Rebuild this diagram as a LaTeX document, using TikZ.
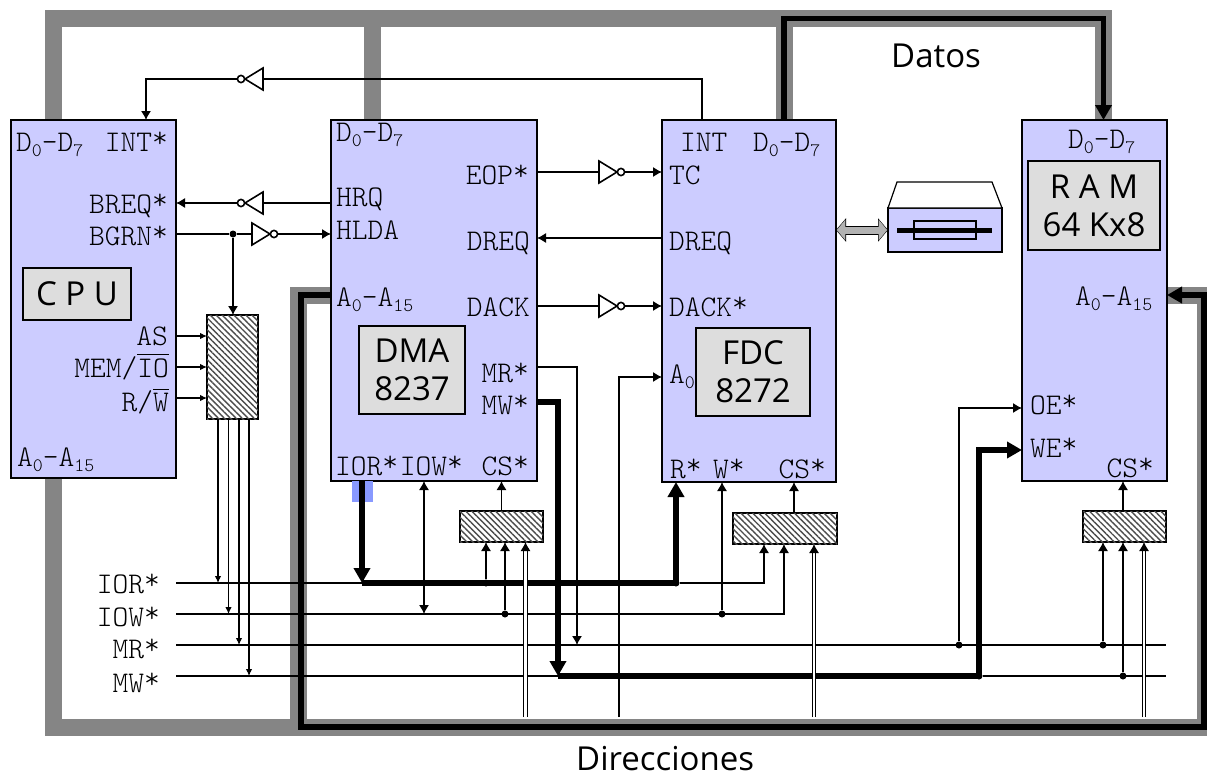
\documentclass[tikz,border=0pt]{standalone}
\usepackage{amsmath}
\usepackage{fontspec}
\usetikzlibrary{arrows.meta, patterns.meta, backgrounds}

\setmonofont{Latin Modern Mono Light}
\newfontfamily\tagfamily{Open Sans}
\definecolor{chipblue}{RGB}{204,204,255}
\definecolor{tagfill}{RGB}{221,221,221}
\definecolor{busgray}{RGB}{133,133,133}
\definecolor{markblue}{RGB}{136,153,255}
\newcommand{\pinfont}{\fontsize{30}{30}\selectfont\ttfamily}
\newcommand{\tagfont}{\fontsize{33}{38}\selectfont\tagfamily}
\newcommand{\idx}[1]{\raisebox{-5pt}{\fontsize{19}{19}\selectfont #1}}
\newcommand{\act}{\raisebox{3.5pt}{*}}

\tikzset{
    notgate/.pic={
        \draw[line width=1.6pt, fill=white] (0,-11) -- (0,11) -- (18,0) -- cycle;
        \draw[line width=1.6pt, fill=white] (22,0) circle (3.6);
    }
}

\begin{document}
\begin{tikzpicture}[
    x=1pt, y=-1pt,
    chip/.style={draw, line width=1.8pt, fill=chipblue, inner sep=0pt, outer sep=0pt},
    tagbox/.style={draw, line width=1.2pt, fill=tagfill, inner sep=0pt, outer sep=0pt, align=center, font=\tagfont},
    hatchbox/.style={draw, line width=1.3pt, fill=white, inner sep=0pt, outer sep=0pt,
        postaction={pattern={Lines[angle=-45, distance=4.2pt, line width=1.4pt]}, pattern color=black!70}},
    pinl/.style={font=\pinfont, inner sep=0pt, anchor=base west},
    pinr/.style={font=\pinfont, inner sep=0pt, anchor=base east},
    buslabel/.style={font=\tagfont, inner sep=0pt, anchor=base west},
    dot/.style={circle, fill=black, inner sep=0pt, minimum size=7pt},
    sig/.style={line width=1.1pt},
    arrow/.style={sig, -{Latex[length=9pt, width=10pt]}},
    smallarrow/.style={sig, -{Latex[length=7pt, width=6.5pt]}},
    both/.style={sig, {Latex[length=9pt, width=10pt]}-{Latex[length=9pt, width=10pt]}},
    addr/.style={line width=1pt, double, double distance=2.6pt, -{Latex[length=9pt, width=10pt]}},
    fat/.style={line width=5.5pt},
    fatarrow/.style={fat, -{Triangle[length=15pt, width=16pt]}},
    busline/.style={line width=17pt, draw=busgray}
]
\useasboundingbox (0,0) rectangle (1207,776);

% ----------------- chips -----------------
\node[chip, minimum width=165, minimum height=358] (cpu) at (93.5,299) {};
\node[chip, minimum width=206, minimum height=361] (dma) at (434,300.5) {};
\node[chip, minimum width=174, minimum height=362] (fdc) at (749,301) {};
\node[chip, minimum width=145, minimum height=361] (ram) at (1094.5,300.5) {};

\node[tagbox, minimum width=108, minimum height=52] (cpuTag) at (77,294) {C P U};
\node[tagbox, minimum width=106, minimum height=88] (dmaTag) at (412,370) {DMA\\8237};
\node[tagbox, minimum width=114, minimum height=88] (fdcTag) at (753,372) {FDC\\8272};
\node[tagbox, minimum width=132, minimum height=89] (ramTag) at (1094,205.5) {R A M\\64 Kx8};

% hatched decoders
\node[hatchbox, minimum width=51, minimum height=104] (hatchCpu) at (232.5,367) {};
\node[hatchbox, minimum width=83, minimum height=31] (hatchDma) at (501.5,526.5) {};
\node[hatchbox, minimum width=104, minimum height=31] (hatchFdc) at (785,528.5) {};
\node[hatchbox, minimum width=83, minimum height=31] (hatchRam) at (1124.5,526.5) {};

% ----------------- pin labels -----------------
\node[pinl] (cpuD) at (16,151) {D\idx{0}-D\idx{7}};
\node[pinr] (cpuInt) at (168,151) {INT\act};
\node[pinr] (cpuBreq) at (168,213) {BREQ\act};
\node[pinr] (cpuBgrn) at (168,245) {BGRN\act};
\node[pinr] (cpuAs) at (168,345) {AS};
\node[pinr] (cpuMem) at (169,377) {MEM/$\overline{\mbox{IO}}$};
\node[pinr] (cpuRw) at (169,411) {R/$\overline{\mbox{W}}$};
\node[pinl] (cpuA) at (17,466) {A\idx{0}-A\idx{15}};

\node[pinl] (dmaD) at (336,141) {D\idx{0}-D\idx{7}};
\node[pinl] (dmaHrq) at (336,206) {HRQ};
\node[pinl] (dmaHlda) at (336,239) {HLDA};
\node[pinl] (dmaA) at (336,306) {A\idx{0}-A\idx{15}};
\node[pinr] (dmaEop) at (529,184) {EOP\act};
\node[pinr] (dmaDreq) at (530,250) {DREQ};
\node[pinr] (dmaDack) at (530,316) {DACK};
\node[pinr] (dmaMr) at (529,382) {MR\act};
\node[pinr] (dmaMw) at (529,414) {MW\act};
\node[pinl] (dmaIor) at (335,475) {IOR\act};
\node[pinr] (dmaIow) at (463,475) {IOW\act};
\node[pinr] (dmaCs) at (529,475) {CS\act};

\node[pinl] (fdcInt) at (680,151) {INT};
\node[pinl] (fdcD) at (753,151) {D\idx{0}-D\idx{7}};
\node[pinl] (fdcTc) at (669,184) {TC};
\node[pinl] (fdcDreq) at (669,250) {DREQ};
\node[pinl] (fdcDack) at (669,316) {DACK\act};
\node[pinl] (fdcA) at (669,383) {A\idx{0}};
\node[pinl] (fdcR) at (670,478) {R\act};
\node[pinl] (fdcW) at (713,478) {W\act};
\node[pinr] (fdcCs) at (826,478) {CS\act};

\node[pinl] (ramD) at (1068,148) {D\idx{0}-D\idx{7}};
\node[pinl] (ramA) at (1075,305) {A\idx{0}-A\idx{15}};
\node[pinl] (ramOe) at (1030,414) {OE\act};
\node[pinl] (ramWe) at (1030,457) {WE\act};
\node[pinr] (ramCs) at (1154,477) {CS\act};

\node[pinr] (lblIor) at (160,593) {IOR\act};
\node[pinr] (lblIow) at (160,626) {IOW\act};
\node[pinr] (lblMr) at (160,658) {MR\act};
\node[pinr] (lblMw) at (160,692) {MW\act};

\node[buslabel] (datos) at (891,67) {Datos};
\node[buslabel] (direcciones) at (576,770) {Direcciones};

% ----------------- buses (behind the chips) -----------------
\coordinate (dCpu) at (53.5,120);
\coordinate (dTop) at (53.5,18.5);
\coordinate (dDma) at (372.5,120);
\coordinate (dFdc) at (784,120);
\coordinate (dRam) at (1103.5,120);
\coordinate (aCpu) at (53.5,478);
\coordinate (aDma) at (331,295);
\coordinate (aRam) at (1167,295);
\coordinate (aBot) at (298.5,727.5);
\coordinate (aRight) at (1205,295);
\coordinate (aBotK) at (301,727);
\coordinate (aRightK) at (1204,295);

\begin{scope}[on background layer]
    \draw[busline] (dCpu) -- (dTop) -| (dRam);
    \draw[busline] (dDma) -- (dDma |- dTop);
    \draw[busline] (dFdc) -- (dFdc |- dTop);
    \draw[busline] (aCpu) |- (aBot);
    \draw[busline] (aDma) -| (aBot) -| (aRight) -- (aRam);
\end{scope}

\draw[fatarrow] (dFdc) -- (dFdc |- dTop) -| (dRam);
\draw[fatarrow] (aDma) -| (aBotK) -| (aRightK) -- (aRam);

% ----------------- control rails -----------------
\coordinate (iorL) at (176,583);
\coordinate (iowL) at (176,614);
\coordinate (mrL) at (176,645);
\coordinate (mwL) at (176,676);
\coordinate (mrR) at (1166,645);
\coordinate (mwR) at (1166,676);

\node[dot] (jIorDma) at (486,583) {};
\node[dot] (jIowDma) at (505,614) {};
\node[dot] (jIorFdc) at (676,583) {};
\node[dot] (jIowFdc) at (722,614) {};
\node[dot] (jMrOe) at (959,645) {};
\node[dot] (jMwWe) at (979,676) {};
\node[dot] (jMrRam) at (1103,645) {};
\node[dot] (jMwRam) at (1123,676) {};
\node[dot] (jBgrn) at (233,234) {};

\coordinate (iorFat) at (362,583);
\coordinate (mwFat) at (558,676);

\draw[sig] (iorL) -- (iorFat);
\draw[fat] (iorFat) -- (jIorFdc.center);
\draw[arrow] (jIorFdc) -| (hatchFdc.south -| 764,0);
\draw[arrow] (iowL) -| (hatchFdc.south -| 784,0);
\draw[sig] (mrL) -- (mrR);
\draw[sig] (mwL) -- (mwFat);
\draw[fat] (mwFat) -- (jMwWe.center);
\draw[sig] (jMwWe) -- (mwR);

% ----------------- inverters and chip to chip signals -----------------
\draw[arrow] (fdc.north -| 702,0) |- (146,79) -- (cpu.north -| 146,0);
\pic[rotate=180] at (263,79) {notgate};

\draw[arrow] (dma.west |- 0,203) -- (cpu.east |- 0,203);
\pic[rotate=180] at (263,203) {notgate};

\draw[sig] (cpu.east |- jBgrn) -- (jBgrn);
\draw[arrow] (jBgrn) -- (dma.west |- jBgrn);
\pic at (252,234) {notgate};
\draw[arrow] (jBgrn) -- (jBgrn |- hatchCpu.north);

\draw[arrow] (dma.east |- 0,172) -- (fdc.west |- 0,172);
\pic at (599,172) {notgate};
\draw[arrow] (fdc.west |- 0,238) -- (dma.east |- 0,238);
\draw[arrow] (dma.east |- 0,306) -- (fdc.west |- 0,306);
\pic at (599,306) {notgate};

% ----------------- CPU decoder -----------------
\draw[smallarrow] (cpu.east |- 0,336) -- (hatchCpu.west |- 0,336);
\draw[smallarrow] (cpu.east |- 0,367) -- (hatchCpu.west |- 0,367);
\draw[smallarrow] (cpu.east |- 0,398) -- (hatchCpu.west |- 0,398);
\draw[smallarrow] (hatchCpu.south -| 218,0) -- (iorL -| 218,0);
\draw[smallarrow] (hatchCpu.south -| 228.5,0) -- (iowL -| 228.5,0);
\draw[smallarrow] (hatchCpu.south -| 239,0) -- (mrL -| 239,0);
\draw[smallarrow] (hatchCpu.south -| 249,0) -- (mwL -| 249,0);

% ----------------- DMA -----------------
\node[fill=markblue, inner sep=0pt, minimum width=21, minimum height=21] (iorMark) at (362.5,491.5) {};
\draw[fatarrow] (dma.south -| iorFat) -- (iorFat);
\draw[both] (dma.south -| 424,0) -- (iowL -| 424,0);
\draw[arrow] (hatchDma.north) -- (dma.south -| hatchDma.north);
\draw[arrow] (jIorDma) -- (jIorDma |- hatchDma.south);
\draw[arrow] (jIowDma) -- (jIowDma |- hatchDma.south);
\coordinate (tapDma) at (525.5,717);
\draw[addr] (tapDma) -- (tapDma |- hatchDma.south);

\draw[arrow] (dma.east |- 0,367) -| (577,645);
\draw[fatarrow] (dma.east |- 0,402) -| (mwFat);

% ----------------- FDC -----------------
\coordinate (tapA0) at (619,717);
\draw[arrow] (tapA0) |- (fdc.west |- 0,377);
\draw[fatarrow] (jIorFdc.center) -- (fdc.south -| jIorFdc);
\draw[arrow] (jIowFdc) -- (fdc.south -| jIowFdc);
\draw[arrow] (hatchFdc.north -| 794,0) -- (fdc.south -| 794,0);
\coordinate (tapFdc) at (814,717);
\draw[addr] (tapFdc) -- (tapFdc |- hatchFdc.south);

% ----------------- disk drive -----------------
\node[chip, line width=1.2pt, minimum width=114, minimum height=44] (disk) at (945,230) {};
\draw[line width=1.2pt, fill=white] (disk.north west) -- (897,182) -- (992,182) -- (disk.north east) -- cycle;
\node[draw, line width=1.2pt, inner sep=0pt, minimum width=62, minimum height=18] (diskSlot) at (945,230) {};
\coordinate (diskBarL) at (897,230);
\coordinate (diskBarR) at (992,230);
\draw[line width=5pt] (diskBarL) -- (diskBarR);
\draw[line width=9pt, draw=black, {Triangle[length=10pt, width=23pt]}-{Triangle[length=10pt, width=23pt]}] (fdc.east |- disk.east) -- (disk.west);
\draw[line width=7pt, draw=black!30, {Triangle[length=8.5pt, width=20pt]}-{Triangle[length=8.5pt, width=20pt]}, shorten >=0.8pt, shorten <=0.8pt] (fdc.east |- disk.east) -- (disk.west);

% ----------------- RAM -----------------
\draw[arrow] (jMrOe) |- (ram.west |- 0,408);
\draw[fatarrow] (jMwWe.center) |- (ram.west |- 0,450);
\draw[arrow] (hatchRam.north -| 1123,0) -- (ram.south -| 1123,0);
\draw[arrow] (jMrRam) -- (jMrRam |- hatchRam.south);
\draw[arrow] (jMwRam) -- (jMwRam |- hatchRam.south);
\coordinate (tapRam) at (1144,717);
\draw[addr] (tapRam) -- (tapRam |- hatchRam.south);

\end{tikzpicture}
\end{document}
